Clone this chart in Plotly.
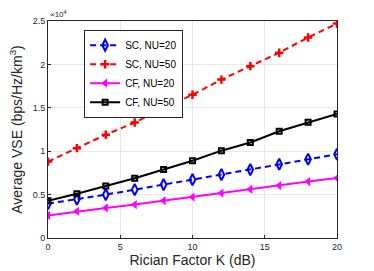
import plotly.graph_objects as go

K_dB = [0, 2, 4, 6, 8, 10, 12, 14, 16, 18, 20]
sc_nu20 = [3960, 4460, 5000, 5570, 6150, 6720, 7300, 7880, 8490, 9070, 9640]
sc_nu50 = [8800, 10350, 11900, 13300, 14950, 16500, 18250, 19800, 21350, 23100, 24700]
cf_nu20 = [2600, 3070, 3460, 3850, 4300, 4720, 5180, 5610, 6040, 6500, 6900]
cf_nu50 = [4300, 5100, 6000, 6880, 7900, 8900, 10060, 11000, 12300, 13330, 14300]

y_tickvals = [0, 5000, 10000, 15000, 20000, 25000]
y_ticktext = ["0", "0.5", "1", "1.5", "2", "2.5"]
x_tickvals = [0, 5, 10, 15, 20]

fig = go.Figure()
fig.add_trace(go.Scatter(x=K_dB, y=sc_nu20, name="SC, NU=20", mode="lines+markers",
    line=dict(color="#0000ff", width=2, dash="6px,4px"),
    marker=dict(symbol="diamond-tall-open", size=8, color="#0000ff", line=dict(width=2))))
fig.add_trace(go.Scatter(x=K_dB, y=sc_nu50, name="SC, NU=50", mode="lines+markers",
    line=dict(color="#ff0000", width=2, dash="6px,4px"),
    marker=dict(symbol="cross-thin-open", size=6, color="#ff0000", line=dict(width=2.5, color="#ff0000"))))
fig.add_trace(go.Scatter(x=K_dB, y=cf_nu20, name="CF, NU=20", mode="lines+markers",
    line=dict(color="#ff00ff", width=2),
    marker=dict(symbol="triangle-left", size=8, color="#ff00ff")))
fig.add_trace(go.Scatter(x=K_dB, y=cf_nu50, name="CF, NU=50", mode="lines+markers",
    line=dict(color="#000000", width=2),
    marker=dict(symbol="square-open", size=5, color="#000000", line=dict(width=2))))

axis_common = dict(showline=True, linecolor="#262626", linewidth=1, mirror=True,
                   showgrid=True, gridcolor="#e8e8e8", gridwidth=1, zeroline=False,
                   ticks="inside", ticklen=3, tickcolor="#262626", automargin=False,
                   tickfont=dict(family="Liberation Sans, Arial", size=9, color="#262626"))

fig.update_layout(
    width=374, height=271,
    margin=dict(l=48, r=37, t=21, b=33),
    paper_bgcolor="white", plot_bgcolor="white",
    font=dict(family="Liberation Sans, Arial", color="#262626"),
    xaxis=dict(range=[0, 20], tickvals=x_tickvals,
               title=dict(text="Rician Factor K (dB)", font=dict(size=14), standoff=2),
               **axis_common),
    yaxis=dict(range=[0, 25000], tickvals=y_tickvals, ticktext=y_ticktext,
               title=dict(text="Average VSE (bps/Hz/km<sup>3</sup>)", font=dict(size=14), standoff=6),
               **axis_common),
    legend=dict(x=0.125, y=0.96, xanchor="left", yanchor="top",
                bgcolor="white", bordercolor="#262626", borderwidth=1,
                font=dict(size=10, color="#000000"), itemwidth=30,
                tracegroupgap=0),
    showlegend=True,
)
fig.add_annotation(text="×10<sup>4</sup>", xref="paper", yref="paper", x=0, y=1.0,
                   xanchor="left", yanchor="bottom", showarrow=False,
                   font=dict(size=8, color="#262626"))

fig.write_html("out.html", post_script="document.body.style.margin='0';",
               config={"displayModeBar": False})
